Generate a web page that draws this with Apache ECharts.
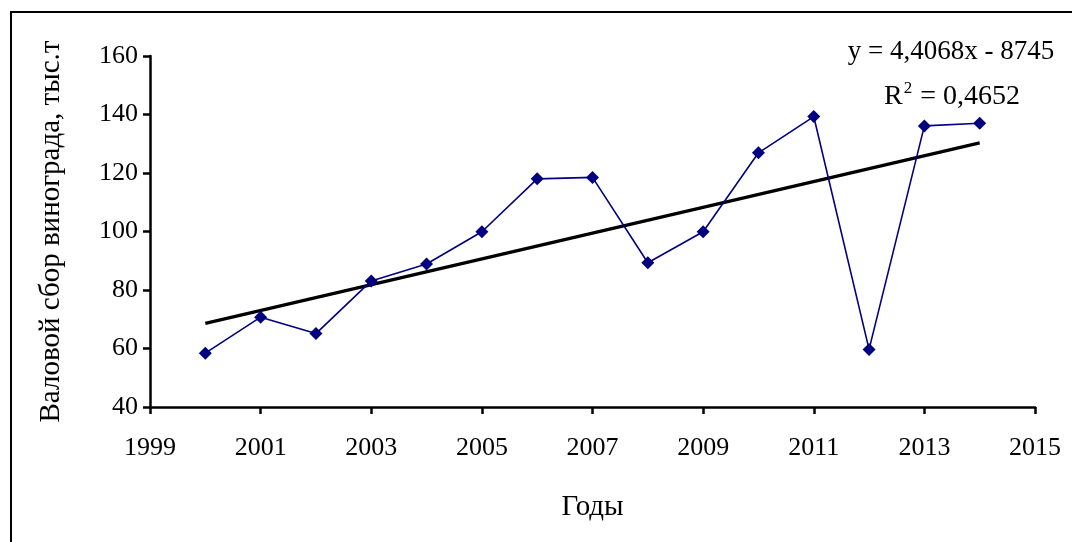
<!DOCTYPE html>
<html>
<head>
<meta charset="utf-8">
<script src="https://cdn.jsdelivr.net/npm/echarts@6/dist/echarts.min.js"></script>
<style>
  html, body { margin: 0; padding: 0; background: #fff; }
  #chart { width: 1072px; height: 542px; }
</style>
</head>
<body>
<div id="chart"></div>
<script>
// Gross grape harvest by year, thousand tonnes
const years = [2000, 2001, 2002, 2003, 2004, 2005, 2006, 2007, 2008, 2009, 2010, 2011, 2012, 2013, 2014];
const harvest = [58.4, 70.7, 65.1, 83.1, 88.9, 99.9, 118.0, 118.5, 89.3, 99.9, 126.9, 139.3, 59.7, 136.1, 137.0];

// Linear trend as stated in the equation label
const trendSlope = 4.4068;
const trendIntercept = -8745;
const trendYears = [2000, 2014];

const xTitle = 'Годы';
const yTitle = 'Валовой сбор винограда, тыс.т';
const eqLine = 'y = 4,4068x - 8745';

const font = '"Liberation Serif", "Times New Roman", serif';

const chart = echarts.init(document.getElementById('chart'), null, { renderer: 'canvas' });

chart.setOption({
  backgroundColor: '#fff',
  animation: false,
  grid: { left: 150, top: 56, right: 37, bottom: 135, containLabel: false },
  xAxis: {
    type: 'value',
    min: 1999, max: 2015, interval: 2,
    name: xTitle,
    nameLocation: 'middle',
    nameGap: 86,
    nameTextStyle: { fontFamily: font, fontSize: 29, color: '#000' },
    axisLine: { show: true, lineStyle: { color: '#000', width: 2.5 } },
    axisTick: { show: true, inside: false, length: 7, lineStyle: { color: '#000', width: 2.5 } },
    axisLabel: { fontFamily: font, fontSize: 26, color: '#000', margin: 28, formatter: v => String(v) },
    splitLine: { show: false }
  },
  yAxis: {
    type: 'value',
    min: 40, max: 160, interval: 20,
    name: yTitle,
    nameLocation: 'middle',
    nameGap: 84,
    nameRotate: 90,
    nameTextStyle: { fontFamily: font, fontSize: 29, color: '#000' },
    axisLine: { show: true, lineStyle: { color: '#000', width: 2.5 } },
    axisTick: { show: true, inside: false, length: 7, lineStyle: { color: '#000', width: 2.5 } },
    axisLabel: { fontFamily: font, fontSize: 26, color: '#000', margin: 12 },
    splitLine: { show: false }
  },
  series: [
    {
      type: 'line',
      name: 'harvest',
      data: years.map((y, i) => [y, harvest[i]]),
      symbol: 'diamond',
      symbolSize: 13,
      itemStyle: { color: '#000080' },
      lineStyle: { color: '#000080', width: 1.6 },
      z: 3
    },
    {
      type: 'line',
      name: 'trend',
      data: trendYears.map(y => [y, trendSlope * y + trendIntercept]),
      symbol: 'none',
      lineStyle: { color: '#000', width: 3.2 },
      z: 2
    }
  ],
  graphic: [
    {
      type: 'rect',
      shape: { x: 11, y: 12, width: 1200, height: 700 },
      style: { fill: 'none', stroke: '#000', lineWidth: 2 },
      silent: true, z: -1
    },
    {
      type: 'text',
      x: 951, y: 52,
      style: { text: eqLine, fontFamily: font, fontSize: 27, fill: '#000', align: 'center', verticalAlign: 'middle' }
    },
    {
      type: 'text',
      x: 952, y: 97,
      style: {
        text: '{r|R}{s|2}{r| = 0,4652}',
        align: 'center', verticalAlign: 'middle',
        rich: {
          r: { fontFamily: font, fontSize: 28, fill: '#000' },
          s: { fontFamily: font, fontSize: 17, fill: '#000', verticalAlign: 'top', padding: [0, 1, 16, 1] }
        }
      }
    }
  ]
});
</script>
</body>
</html>
